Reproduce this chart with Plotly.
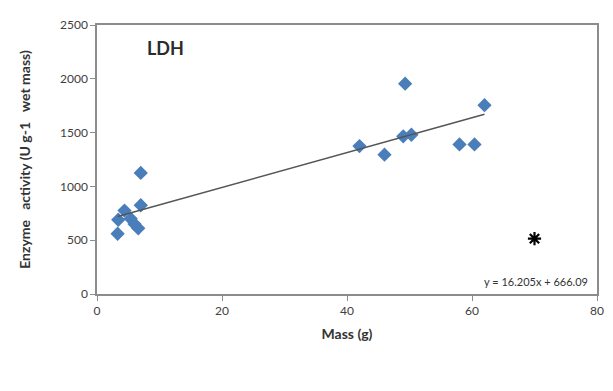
import plotly.graph_objects as go

mass = [3.3, 3.4, 4.4, 5.4, 6.0, 6.6, 7.0, 7.0, 42.0, 46.0, 49.0, 49.3, 50.3, 58.0, 60.4, 62.0]
activity = [560, 690, 775, 700, 650, 610, 825, 1125, 1375, 1295, 1465, 1955, 1480, 1390, 1390, 1755]
slope = 16.205
intercept = 666.09
star_x = [70]
star_y = [515]

fit_x = [min(mass), max(mass)]
fit_y = [slope * v + intercept for v in fit_x]

font = "Lato, 'Open Sans', sans-serif"
grey = "#8c8c8c"

fig = go.Figure()
fig.add_trace(go.Scatter(x=mass, y=activity, mode="markers",
                         marker=dict(symbol="diamond", size=11, color="#4a7ebb"),
                         showlegend=False))
fig.add_trace(go.Scatter(x=fit_x, y=fit_y, mode="lines",
                         line=dict(color="#555555", width=1.5), showlegend=False))
fig.add_trace(go.Scatter(x=star_x, y=star_y, mode="markers",
                         marker=dict(symbol="asterisk-open", size=11, color="black",
                                     line=dict(color="black", width=2.2)),
                         showlegend=False))

fig.add_annotation(xref="paper", yref="paper", x=0.095, y=0.915, text="<b>LDH</b>",
                   showarrow=False, xanchor="left", yanchor="middle",
                   font=dict(family=font, size=18, color="#2b2b2b"))
fig.add_annotation(xref="paper", yref="paper", x=0.985, y=0.045,
                   text=f"y = {slope}x + {intercept}",
                   showarrow=False, xanchor="right", yanchor="middle",
                   font=dict(family=font, size=11, color="#333333"))

# page body has an 8px margin; compensate so the plot area lands where the reference has it
fig.update_layout(
    width=605, height=383,
    margin=dict(l=89, r=15, t=9, b=97),
    paper_bgcolor="white", plot_bgcolor="white",
    font=dict(family=font, size=12, color="#404040"),
    xaxis=dict(range=[0, 80], tickvals=[0, 20, 40, 60, 80], showgrid=False, zeroline=False,
               showline=True, linecolor=grey, linewidth=1.5, mirror=True,
               ticks="outside", ticklen=5, tickcolor=grey,
               title=dict(text="<b>Mass (g)</b>", font=dict(size=14, color="#333333"), standoff=12)),
    yaxis=dict(range=[0, 2500], tickvals=[0, 500, 1000, 1500, 2000, 2500], showgrid=False,
               zeroline=False, showline=True, linecolor=grey, linewidth=1.5, mirror=True,
               ticks="outside", ticklen=5, tickcolor=grey,
               title=dict(text="<b>Enzyme   activity (U g-1   wet mass)</b>",
                          font=dict(size=14, color="#333333"), standoff=26)),
)

fig.write_html("out.html")
